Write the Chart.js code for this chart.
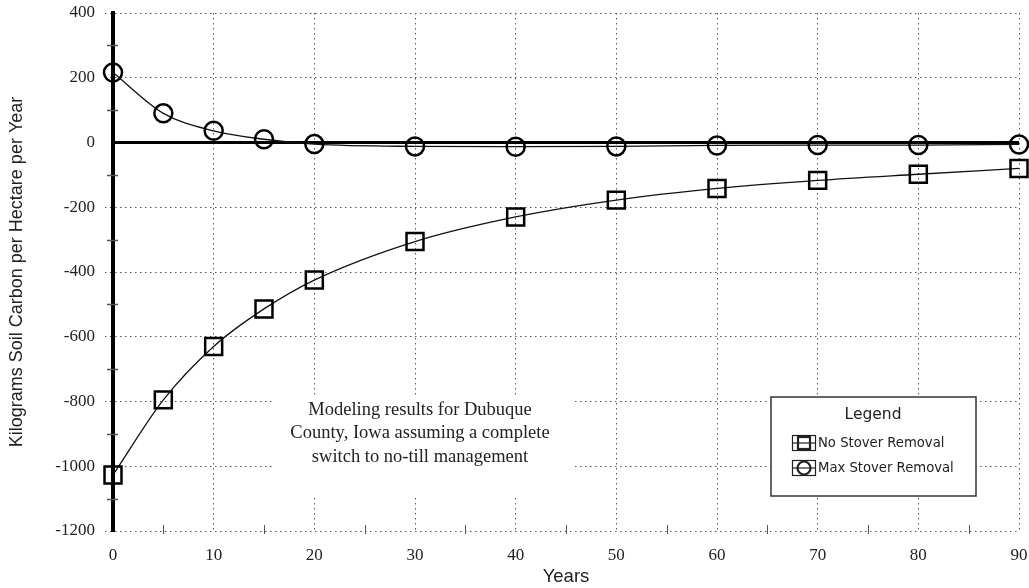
<!DOCTYPE html>
<html>
<head>
<meta charset="utf-8">
<script src="https://cdn.jsdelivr.net/npm/chart.js@4.4.0/dist/chart.umd.min.js"></script>
<style>
    html, body { margin: 0; padding: 0; background: #fff; }
    #wrap { width: 1029px; height: 588px; position: relative; }
</style>
</head>
<body>
<div id="wrap"><canvas id="myChart"></canvas></div>
<script>
    var years = [0, 5, 10, 15, 20, 30, 40, 50, 60, 70, 80, 90];
    var noStoverData = [-1027, -795, -630, -514, -425, -306, -230, -178, -142, -117, -98, -80];
    var maxStoverData = [216, 90, 36, 10, -5, -12, -13, -12, -9, -8, -8, -6];
    var xMinorTicks = [5, 15, 25, 35, 45, 55, 65, 75, 85];
    var yMinorTicks = [300, 100, -100, -300, -500, -700, -900, -1100];
    var noteLines = ['Modeling results for Dubuque', 'County, Iowa assuming a complete', 'switch to no-till management'];
    var legendTitle = 'Legend';
    var legendLabels = ['No Stover Removal', 'Max Stover Removal'];

    function toPoints(vals) {
        return vals.map(function(v, i) { return { x: years[i], y: v }; });
    }

    var serif = '"Liberation Serif", "Times New Roman", serif';
    var sans = '"Liberation Sans", Arial, sans-serif';
    var dots = [1.5, 3.5];

    // zero line, minor ticks, note box and legend box
    const extras = {
        id: 'extras',
        beforeDatasetsDraw(chart) {
            const { ctx, chartArea: a, scales: { x, y } } = chart;
            ctx.save();
            // minor ticks
            ctx.strokeStyle = '#555';
            ctx.lineWidth = 1.5;
            yMinorTicks.forEach(function(v) {
                var py = Math.round(y.getPixelForValue(v)) + 0.5;
                ctx.beginPath();
                ctx.moveTo(a.left - 6, py);
                ctx.lineTo(a.left + 5, py);
                ctx.stroke();
            });
            ctx.lineWidth = 1;
            xMinorTicks.forEach(function(v) {
                var px = Math.round(x.getPixelForValue(v)) + 0.5;
                ctx.beginPath();
                ctx.moveTo(px, a.bottom - 6);
                ctx.lineTo(px, a.bottom + 3);
                ctx.stroke();
            });
            // zero line
            var y0 = y.getPixelForValue(0);
            ctx.strokeStyle = '#000';
            ctx.lineWidth = 3;
            ctx.beginPath();
            ctx.moveTo(a.left, y0);
            ctx.lineTo(a.right, y0);
            ctx.stroke();

            // note
            ctx.fillStyle = '#fff';
            ctx.fillRect(a.left + 162, a.top + 384, 298, 98);
            ctx.fillStyle = '#222';
            ctx.font = '18.5px ' + serif;
            ctx.textAlign = 'center';
            ctx.textBaseline = 'middle';
            noteLines.forEach(function(t, i) {
                ctx.fillText(t, a.left + 307, a.top + 397 + i * 23.5);
            });

            // legend
            var lx = a.left + 658, ly = a.top + 384, lw = 205, lh = 99;
            ctx.fillStyle = '#fff';
            ctx.fillRect(lx, ly, lw, lh);
            ctx.strokeStyle = '#333';
            ctx.lineWidth = 1.5;
            ctx.strokeRect(lx, ly, lw, lh);
            ctx.fillStyle = '#222';
            ctx.font = '15.5px "DejaVu Sans", sans-serif';
            ctx.fillText(legendTitle, lx + 102, ly + 18);
            ctx.textAlign = 'left';
            ctx.font = '13.2px "DejaVu Sans", sans-serif';
            legendLabels.forEach(function(t, i) {
                var iy = ly + 46 + i * 25;
                var ix = lx + 21;
                ctx.strokeStyle = '#222';
                ctx.lineWidth = 1.2;
                ctx.strokeRect(ix + 0.5, iy - 7.5, 23, 15);
                ctx.beginPath();
                ctx.moveTo(ix, iy);
                ctx.lineTo(ix + 23, iy);
                ctx.stroke();
                ctx.lineWidth = 2.2;
                if (i === 0) {
                    ctx.strokeRect(ix + 6, iy - 6, 12, 12);
                } else {
                    ctx.beginPath();
                    ctx.arc(ix + 12, iy, 6.5, 0, Math.PI * 2);
                    ctx.stroke();
                }
                ctx.fillText(t, ix + 26, iy + 1);
            });
            ctx.restore();
        }
    };

    const ctx = document.getElementById('myChart').getContext('2d');
    const myChart = new Chart(ctx, {
        type: 'line',
        data: {
            datasets: [{
                label: legendLabels[0],
                data: toPoints(noStoverData),
                borderColor: '#111',
                borderWidth: 1.3,
                pointStyle: 'rect',
                pointRadius: 12,
                pointBorderWidth: 2.5,
                pointBorderColor: '#000',
                pointBackgroundColor: 'rgba(0,0,0,0)',
                cubicInterpolationMode: 'monotone',
                clip: false
            }, {
                label: legendLabels[1],
                data: toPoints(maxStoverData),
                borderColor: '#111',
                borderWidth: 1.3,
                pointStyle: 'circle',
                pointRadius: 9,
                pointBorderWidth: 2.5,
                pointBorderColor: '#000',
                pointBackgroundColor: 'rgba(0,0,0,0)',
                cubicInterpolationMode: 'monotone',
                clip: false
            }]
        },
        options: {
            responsive: true,
            maintainAspectRatio: false,
            animation: false,
            layout: { autoPadding: false, padding: { top: 13, right: 10, left: 0, bottom: 0 } },
            plugins: {
                legend: { display: false },
                tooltip: { enabled: false }
            },
            scales: {
                x: {
                    type: 'linear',
                    min: 0,
                    max: 90,
                    afterFit: function(s) {
                        s.height = 57;
                        s.paddingLeft = 0;
                        s.paddingRight = 0;
                    },
                    ticks: {
                        stepSize: 10,
                        padding: 14,
                        color: '#222',
                        font: { family: serif, size: 17 }
                    },
                    grid: {
                        color: '#555',
                        lineWidth: 1,
                        drawTicks: false
                    },
                    border: { display: false, dash: dots },
                    title: {
                        display: true,
                        text: 'Years',
                        color: '#222',
                        padding: { top: 0, bottom: 0 },
                        font: { family: sans, size: 18.5 }
                    }
                },
                y: {
                    min: -1200,
                    max: 400,
                    afterFit: function(s) {
                        s.width = 113;
                        s.paddingTop = 0;
                        s.paddingBottom = 0;
                    },
                    ticks: {
                        stepSize: 200,
                        padding: 10,
                        color: '#222',
                        font: { family: serif, size: 17 },
                        callback: function(v) { return String(v); }
                    },
                    grid: {
                        color: function(c) { return c.tick && c.tick.value === 0 ? 'rgba(0,0,0,0)' : '#555'; },
                        lineWidth: 1,
                        tickLength: 8,
                        tickBorderDash: dots
                    },
                    border: { display: true, color: '#000', width: 4, dash: dots },
                    title: {
                        display: true,
                        text: 'Kilograms Soil Carbon per Hectare per Year',
                        color: '#222',
                        padding: { top: 6, bottom: 0 },
                        font: { family: sans, size: 18 }
                    }
                }
            }
        },
        plugins: [extras]
    });
</script>
</body>
</html>
